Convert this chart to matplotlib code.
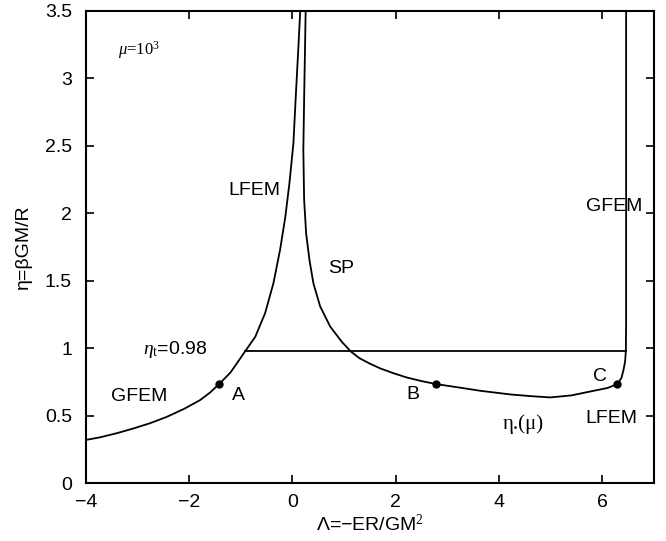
import matplotlib
matplotlib.use("Agg")
import matplotlib.pyplot as plt
from matplotlib.ticker import FuncFormatter

plt.rcParams['font.family'] = ['Liberation Sans', 'DejaVu Sans']
plt.rcParams['mathtext.fontset'] = 'custom'
plt.rcParams['mathtext.rm'] = 'Liberation Serif'
plt.rcParams['mathtext.it'] = 'Liberation Serif:italic'

# Branch rising from the GFEM region into the LFEM region
left_x = [-4.00, -3.73, -3.40, -3.08, -2.75, -2.44, -2.10, -1.79, -1.60, -1.42,
          -1.20, -0.92, -0.72, -0.53, -0.37, -0.24, -0.14, -0.06, 0.018, 0.06,
          0.11, 0.15]
left_y = [0.32, 0.339, 0.37, 0.405, 0.445, 0.49, 0.55, 0.615, 0.67, 0.734,
          0.82, 0.975, 1.085, 1.26, 1.48, 1.73, 1.97, 2.22, 2.52, 2.84,
          3.2, 3.5]

# Spinodal branch: from the top down through B, the minimum, C, then up
right_x = [0.255, 0.225, 0.21, 0.225, 0.264, 0.33, 0.405, 0.535, 0.73, 0.955,
           1.13, 1.30, 1.50, 1.70, 1.95, 2.21, 2.50, 2.78, 3.20, 3.64,
           4.22, 4.60, 4.99, 5.40, 5.83, 6.10, 6.29, 6.37, 6.41, 6.44,
           6.455, 6.46, 6.46]
right_y = [3.5, 2.84, 2.47, 2.10, 1.85, 1.65, 1.48, 1.31, 1.16, 1.047,
           0.975, 0.925, 0.885, 0.85, 0.815, 0.783, 0.756, 0.734, 0.71, 0.684,
           0.657, 0.645, 0.635, 0.65, 0.684, 0.705, 0.734, 0.78, 0.84, 0.90,
           0.98, 1.2, 3.5]

# Transition temperature line
eta_t = 0.98
eta_t_x = [-0.92, 6.46]

# Marked points A, B, C
pt_labels = ['A', 'B', 'C']
pt_x = [-1.42, 2.78, 6.29]
pt_y = [0.734, 0.734, 0.734]

x_ticks = [-4, -2, 0, 2, 4, 6]
y_ticks = [0, 0.5, 1, 1.5, 2, 2.5, 3, 3.5]

fig = plt.figure(figsize=(6.66, 5.41), dpi=100)
ax = fig.add_axes([0.129, 0.107, 0.853, 0.873])

lw = 1.3
ax.plot(left_x, left_y, color='black', lw=lw)
ax.plot(right_x, right_y, color='black', lw=lw)
ax.plot(eta_t_x, [eta_t, eta_t], color='black', lw=lw)
ax.plot(pt_x, pt_y, 'o', color='black', markersize=5)

ax.set_xlim(-4, 7)
ax.set_ylim(0, 3.5)
ax.set_xticks(x_ticks)
ax.set_yticks(y_ticks)
ax.xaxis.set_major_formatter(FuncFormatter(lambda v, p: ('%g' % v).replace('-', '\u2212')))
ax.yaxis.set_major_formatter(FuncFormatter(lambda v, p: '%g' % v))
ax.tick_params(direction='in', top=True, right=True, length=6, width=1.2,
               labelsize=14)
ax.tick_params(axis='x', pad=8)
ax.tick_params(axis='y', pad=10)
for s in ax.spines.values():
    s.set_linewidth(1.5)

ax.set_xlabel('\u039b=\u2212ER/GM$^{2}$', fontsize=14, labelpad=2)
ax.set_ylabel('\u03b7=\u03b2GM/R', fontsize=14, labelpad=9)

fs = 14
ax.text(-3.38, 3.21, '$\\mu$=10$^3$', fontsize=12, ha='left', va='center',
        family='Liberation Serif')
ax.text(-0.74, 2.17, 'LFEM', fontsize=fs, ha='center', va='center')
ax.text(0.94, 1.59, 'SP', fontsize=fs, ha='center', va='center')
ax.text(6.23, 2.05, 'GFEM', fontsize=fs, ha='center', va='center')
ax.text(-2.9, 0.99, '$\\eta_{\\rm t}$=0.98', fontsize=fs, ha='left', va='center')
ax.text(-2.97, 0.64, 'GFEM', fontsize=fs, ha='center', va='center')
ax.text(6.17, 0.48, 'LFEM', fontsize=fs, ha='center', va='center')
ax.text(4.47, 0.44, '\u03b7.(\u03bc)', fontsize=15, ha='center', va='center',
        family='Liberation Serif')
label_off = [(0.38, -0.085), (-0.44, -0.075), (-0.33, 0.055)]
for lab, x, y, (dx, dy) in zip(pt_labels, pt_x, pt_y, label_off):
    ax.text(x + dx, y + dy, lab, fontsize=fs, ha='center', va='center')

fig.savefig('out.png', dpi=100)
